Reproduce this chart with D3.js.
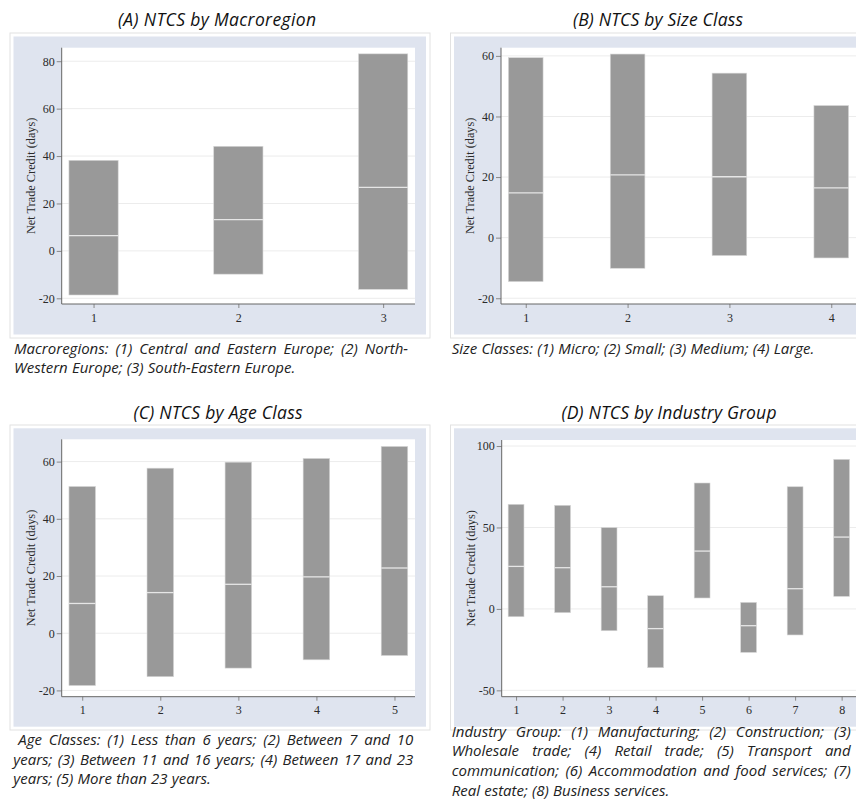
<!DOCTYPE html>
<html>
<head>
<meta charset="utf-8">
<script src="https://cdn.jsdelivr.net/npm/d3@7/dist/d3.min.js"></script>
<style>
  body { margin: 0; background: #fff; }
  svg { display: block; }
</style>
</head>
<body>
<svg id="chart" width="856" height="806"></svg>
<script>
// values (days)
var macroCats = [1, 2, 3];
var macroLow  = [-18.6, -9.8, -16.2];
var macroMed  = [6.4, 13.2, 26.8];
var macroHigh = [38.2, 44.1, 83.1];

var sizeCats = [1, 2, 3, 4];
var sizeLow  = [-14.5, -10.1, -5.9, -6.7];
var sizeMed  = [14.8, 20.7, 20.1, 16.4];
var sizeHigh = [59.4, 60.6, 54.3, 43.6];

var ageCats = [1, 2, 3, 4, 5];
var ageLow  = [-18.3, -15.2, -12.2, -9.3, -7.8];
var ageMed  = [10.4, 14.2, 17.1, 19.7, 22.8];
var ageHigh = [51.3, 57.7, 59.8, 61.1, 65.3];

var indCats = [1, 2, 3, 4, 5, 6, 7, 8];
var indLow  = [-4.8, -2.3, -13.4, -36.1, 6.7, -26.7, -16.0, 7.7];
var indMed  = [26.1, 25.3, 13.6, -12.1, 35.5, -10.3, 12.4, 44.1];
var indHigh = [64.2, 63.6, 49.9, 8.1, 77.3, 4.0, 75.0, 91.8];

var ticksA = [-20, 0, 20, 40, 60, 80];
var ticksB = [-20, 0, 20, 40, 60];
var ticksC = [-20, 0, 20, 40, 60];
var ticksD = [-50, 0, 50, 100];

var titles = ["(A) NTCS by Macroregion", "(B) NTCS by Size Class",
              "(C) NTCS by Age Class", "(D) NTCS by Industry Group"];

var captionA = ["Macroregions: (1) Central and Eastern Europe; (2) North-",
                "Western Europe; (3) South-Eastern Europe."];
var captionB = ["Size Classes: (1) Micro; (2) Small; (3) Medium; (4) Large."];
var captionC = ["Age Classes: (1) Less than 6 years; (2) Between 7 and 10",
                "years; (3) Between 11 and 16 years; (4) Between 17 and 23",
                "years; (5) More than 23 years."];
var captionD = ["Industry Group: (1) Manufacturing; (2) Construction; (3)",
                "Wholesale trade; (4) Retail trade; (5) Transport and",
                "communication; (6) Accommodation and food services; (7)",
                "Real estate; (8) Business services."];

var svg = d3.select("#chart");
var serif = "'Liberation Serif', 'DejaVu Serif', serif";
var sans = "'Open Sans', 'Noto Sans', sans-serif";

// layout of the four panels
var panels = [
  { cats: macroCats, low: macroLow, med: macroMed, high: macroHigh, ticks: ticksA,
    yDom: [-22.4, 85.7], pad: 0.22, frame: [10, 33, 420, 305], bg: [13.5, 36.5, 412.5, 298],
    plot: [61.7, 47.7, 415, 304], title: titles[0], tx: 217, ty: 26, tw: 198,
    cap: captionA, cx0: 14, cx1: 408, cy: 353.5, indent: 0 },
  { cats: sizeCats, low: sizeLow, med: sizeMed, high: sizeHigh, ticks: ticksB,
    yDom: [-21.9, 62.7], pad: 0.243, frame: [450.5, 33, 420, 305], bg: [454, 36.5, 420, 298],
    plot: [501, 47.7, 856, 304], title: titles[1], tx: 658, ty: 26, tw: 170,
    cap: captionB, cx0: 451.7, cx1: null, cy: 353.5, indent: 0 },
  { cats: ageCats, low: ageLow, med: ageMed, high: ageHigh, ticks: ticksC,
    yDom: [-22.2, 67.8], pad: 0.263, frame: [10, 425, 420, 305], bg: [13.5, 428.3, 412.5, 298.4],
    plot: [61.7, 439.3, 415, 696.7], title: titles[2], tx: 218, ty: 419, tw: 169,
    cap: captionC, cx0: 13.3, cx1: 413.3, cy: 745, indent: 5 },
  { cats: indCats, low: indLow, med: indMed, high: indHigh, ticks: ticksD,
    yDom: [-53.9, 103.7], pad: 0.309, frame: [450.5, 425, 420, 305], bg: [454, 428.3, 420, 298.4],
    plot: [501.7, 440, 856, 696.7], title: titles[3], tx: 669, ty: 419, tw: 215,
    cap: captionD, cx0: 451.7, cx1: 850.7, cy: 736.7, indent: 0 }
];

var barFrac = 0.34;
// Stata style labels use a plain hyphen for negatives
var tickFmt = function (d) { return d < 0 ? "-" + Math.abs(d) : String(d); };

panels.forEach(function (p) {
  var g = svg.append("g");

  // outer frame and tinted background
  g.append("rect")
    .attr("x", p.frame[0]).attr("y", p.frame[1])
    .attr("width", p.frame[2]).attr("height", p.frame[3])
    .attr("fill", "#fff").attr("stroke", "#e2e2e2").attr("stroke-width", 1);
  g.append("rect")
    .attr("x", p.bg[0]).attr("y", p.bg[1])
    .attr("width", p.bg[2]).attr("height", p.bg[3])
    .attr("fill", "#dfe4ef");
  g.append("rect")
    .attr("x", p.plot[0]).attr("y", p.plot[1])
    .attr("width", p.plot[2] - p.plot[0]).attr("height", p.plot[3] - p.plot[1])
    .attr("fill", "#fff");

  var n = p.cats.length;
  // B and D run off the right edge of the picture
  var x = d3.scaleLinear().domain([1 - p.pad, n + p.pad]).range([p.plot[0], Math.min(p.plot[2], 856)]);
  var y = d3.scaleLinear().domain(p.yDom).range([p.plot[3], p.plot[1]]);

  // gridlines
  g.append("g").selectAll("line")
    .data(p.ticks)
    .enter()
    .append("line")
    .attr("x1", p.plot[0]).attr("x2", p.plot[2])
    .attr("y1", function (d) { return y(d); })
    .attr("y2", function (d) { return y(d); })
    .attr("stroke", "#ececec").attr("stroke-width", 1);

  // bars: low .. high with a median line
  var bw = (x(2) - x(1)) * barFrac;
  var rows = p.cats.map(function (c, i) {
    return { cat: c, low: p.low[i], med: p.med[i], high: p.high[i] };
  });
  g.append("g").selectAll("rect")
    .data(rows)
    .enter()
    .append("rect")
    .attr("x", function (d) { return x(d.cat) - bw / 2; })
    .attr("y", function (d) { return y(d.high); })
    .attr("width", bw)
    .attr("height", function (d) { return y(d.low) - y(d.high); })
    .attr("fill", "#999999")
    .attr("stroke", "#d6d6d6").attr("stroke-width", 0.6);
  g.append("g").selectAll("line")
    .data(rows)
    .enter()
    .append("line")
    .attr("x1", function (d) { return x(d.cat) - bw / 2; })
    .attr("x2", function (d) { return x(d.cat) + bw / 2; })
    .attr("y1", function (d) { return y(d.med); })
    .attr("y2", function (d) { return y(d.med); })
    .attr("stroke", "#e6e6e6").attr("stroke-width", 1.3);

  // axes
  var yAxis = d3.axisLeft(y).tickValues(p.ticks).tickSize(5).tickPadding(2).tickFormat(tickFmt);
  var ya = g.append("g").attr("transform", "translate(" + p.plot[0] + ",0)").call(yAxis);
  var xAxis = d3.axisBottom(x).tickValues(p.cats).tickSize(4).tickPadding(5).tickFormat(tickFmt);
  var xa = g.append("g").attr("transform", "translate(0," + p.plot[3] + ")").call(xAxis);
  [ya, xa].forEach(function (a) {
    a.select(".domain").remove();
    a.selectAll(".tick line").attr("stroke", "#888");
    a.attr("font-size", null);
    a.selectAll("text").attr("fill", "#2a2a2a").style("font-family", serif).style("font-size", "12px");
  });
  g.append("line")
    .attr("x1", p.plot[0]).attr("x2", p.plot[0])
    .attr("y1", p.plot[1]).attr("y2", p.plot[3])
    .attr("stroke", "#666").attr("stroke-width", 1);
  g.append("line")
    .attr("x1", p.plot[0]).attr("x2", p.plot[2])
    .attr("y1", p.plot[3]).attr("y2", p.plot[3])
    .attr("stroke", "#666").attr("stroke-width", 1);

  // y axis title
  g.append("text")
    .attr("transform", "translate(" + (p.plot[0] - 27) + "," + ((p.plot[1] + p.plot[3]) / 2) + ") rotate(-90)")
    .attr("text-anchor", "middle")
    .style("font-family", serif).style("font-size", "12.3px")
    .attr("fill", "#2a2a2a")
    .text("Net Trade Credit (days)");

  // panel title
  g.append("text")
    .attr("x", p.tx).attr("y", p.ty)
    .attr("text-anchor", "middle")
    .attr("textLength", p.tw).attr("lengthAdjust", "spacing")
    .style("font-family", sans).style("font-style", "italic").style("font-size", "17.5px")
    .attr("fill", "#111")
    .text(p.title);

  caption(g, p);
});

// justified caption lines, last line left aligned
function caption(g, p) {
  var lh = 19.7;
  p.cap.forEach(function (line, li) {
    var yy = p.cy + li * lh;
    var words = line.split(" ");
    var last = li === p.cap.length - 1 || p.cx1 === null;
    var x0 = p.cx0 + (li === 0 ? p.indent : 0);
    var texts = words.map(function (w) {
      return g.append("text")
        .attr("y", yy)
        .style("font-family", sans).style("font-style", "italic").style("font-size", "15px")
        .attr("fill", "#222")
        .text(w);
    });
    var widths = texts.map(function (t) { return t.node().getComputedTextLength(); });
    var gap = 4.2;
    if (!last) {
      gap = (p.cx1 - x0 - d3.sum(widths)) / (words.length - 1);
    }
    var cx = x0;
    texts.forEach(function (t, i) {
      t.attr("x", cx);
      cx += widths[i] + gap;
    });
  });
}
</script>
</body>
</html>
